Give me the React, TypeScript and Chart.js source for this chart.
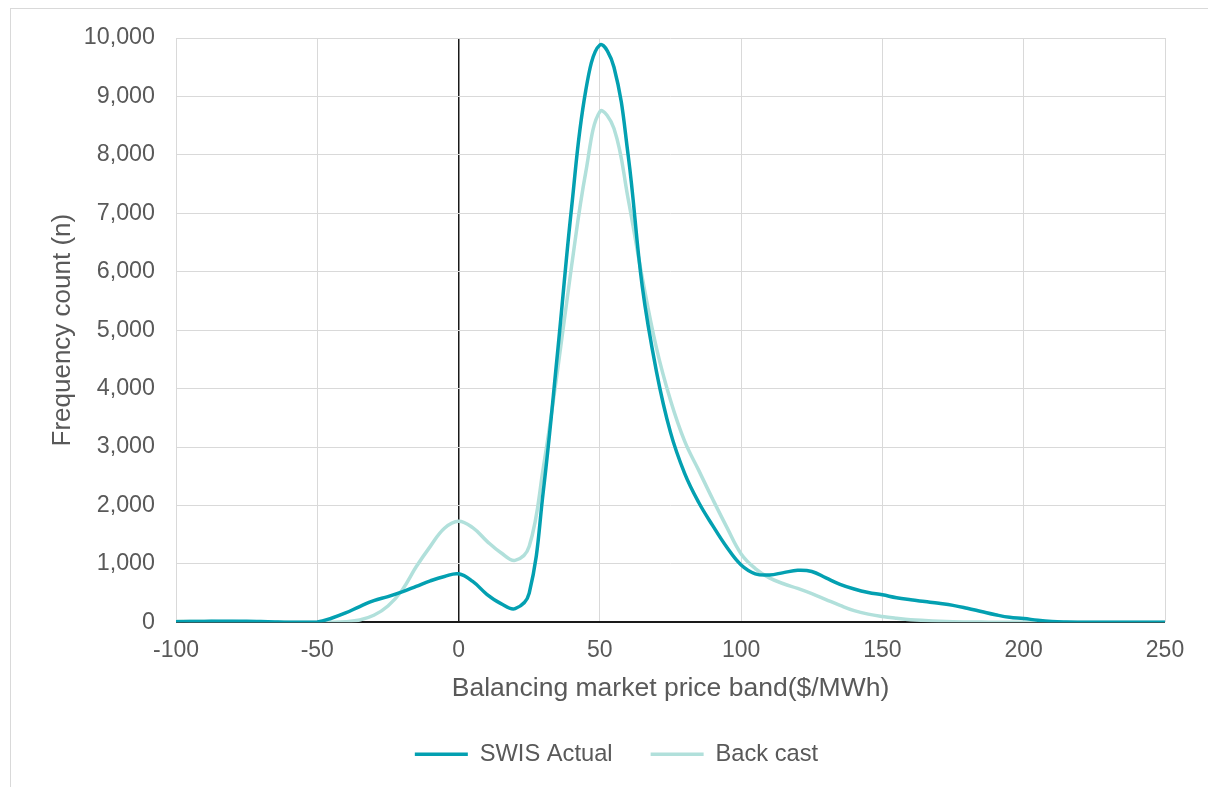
import React, { useEffect, useRef } from "react";
import { Chart, registerables } from "chart.js";

Chart.register(...registerables);

// Price bands ($/MWh)
const priceBands = [
  -100, -95, -90, -85, -80, -75, -70, -65, -60, -55,
  -50, -45, -40, -35, -30, -25, -20, -15, -10, -5,
  0, 5, 10, 15, 20, 25, 30, 35, 40, 45,
  50, 55, 60, 65, 70, 75, 80, 85, 90, 95,
  100, 105, 110, 115, 120, 125, 130, 135, 140, 145,
  150, 155, 160, 165, 170, 175, 180, 185, 190, 195,
  200, 205, 210, 215, 220, 225, 230, 235, 240, 245,
  250,
];

const swisActual = [
  10, 12, 15, 18, 20, 18, 12, 5, 0, 0,
  5, 70, 160, 270, 370, 440, 520, 615, 710, 785,
  830, 700, 480, 320, 235, 500, 2250, 4600, 7100, 9100,
  9880, 9500, 8000, 5750, 4300, 3250, 2550, 2050, 1650, 1280,
  980, 830, 810, 850, 890, 870, 760, 650, 570, 510,
  470, 420, 385, 355, 325, 290, 240, 185, 130, 85,
  65, 35, 15, 6, 2, 0, 0, 0, 0, 0,
  0,
];

const backCast = [
  20, 20, 18, 15, 12, 10, 8, 5, 2, 0,
  0, 0, 10, 40, 120, 280, 550, 950, 1300, 1610,
  1730, 1620, 1390, 1190, 1060, 1300, 2650, 4300, 6100, 7700,
  8740, 8450, 7250, 5900, 4700, 3800, 3100, 2600, 2100, 1620,
  1170, 920, 760, 660, 580, 490, 390, 290, 200, 140,
  100, 70, 45, 30, 18, 10, 6, 3, 2, 0,
  0, 0, 0, 0, 0, 0, 0, 0, 0, 0,
  0,
];

const seriesLabels = ["SWIS Actual", "Back cast"];
const xMin = -100;
const xMax = 250;
const xStep = 50;
const yMin = 0;
const yMax = 10000;
const yStep = 1000;

const DARK = "#03A0B1";
const LIGHT = "#B1E0DB";
const TEXT = "#595959";
const GRID = "#d9d9d9";
const AXIS = "#1a1a1a";
const FONT = "'Liberation Sans', Arial, sans-serif";

const frame = {
  id: "frame",
  beforeDraw(chart: any) {
    const { ctx, width, height } = chart;
    ctx.save();
    ctx.fillStyle = "#ffffff";
    ctx.fillRect(0, 0, width, height);
    ctx.strokeStyle = GRID;
    ctx.lineWidth = 1;
    ctx.strokeRect(10.5, 8.5, width + 20, height + 20);
    ctx.restore();
  },
};

export default function App() {
  const ref = useRef<HTMLCanvasElement>(null);

  useEffect(() => {
    const canvas = ref.current;
    if (!canvas) return;
    const chart = new Chart(canvas, {
      type: "line",
      data: {
        datasets: [
          {
            label: seriesLabels[0],
            data: priceBands.map((x, i) => ({ x, y: swisActual[i] })),
            borderColor: DARK,
            backgroundColor: DARK,
            borderWidth: 3.5,
            pointRadius: 0,
            tension: 0.4,
            fill: false,
          },
          {
            label: seriesLabels[1],
            data: priceBands.map((x, i) => ({ x, y: backCast[i] })),
            borderColor: LIGHT,
            backgroundColor: LIGHT,
            borderWidth: 3.5,
            pointRadius: 0,
            tension: 0.4,
            fill: false,
          },
        ],
      },
      options: {
        responsive: false,
        animation: false,
        devicePixelRatio: 1,
        font: { family: FONT },
        layout: { padding: { left: 68, right: 43, top: 38, bottom: 11 } },
        plugins: {
          legend: {
            position: "bottom",
            labels: {
              usePointStyle: true,
              pointStyle: "line",
              pointStyleWidth: 53,
              color: TEXT,
              font: { size: 23.7, family: FONT },
              padding: 38,
            },
          },
          tooltip: { enabled: false },
        },
        scales: {
          x: {
            type: "linear",
            min: xMin,
            max: xMax,
            ticks: {
              stepSize: xStep,
              color: TEXT,
              font: { size: 23, family: FONT },
              padding: 15,
            },
            grid: {
              color: (c: any) => (c.tick && c.tick.value === 0 ? AXIS : GRID),
              lineWidth: (c: any) => (c.tick && c.tick.value === 0 ? 1.5 : 1),
              drawTicks: false,
            },
            border: { display: false },
            title: {
              display: true,
              text: "Balancing market price band($/MWh)",
              color: TEXT,
              font: { size: 26.5, family: FONT },
              padding: { top: 0, bottom: 0 },
            },
            afterFit: (s: any) => {
              s.height = 82;
            },
          },
          y: {
            type: "linear",
            min: yMin,
            max: yMax,
            ticks: {
              stepSize: yStep,
              color: TEXT,
              font: { size: 23.3, family: FONT },
              padding: 21,
            },
            grid: {
              color: (c: any) => (c.tick && c.tick.value === 0 ? AXIS : GRID),
              lineWidth: (c: any) => (c.tick && c.tick.value === 0 ? 2 : 1),
              drawTicks: false,
            },
            border: { display: false },
            title: {
              display: true,
              text: "Frequency count (n)",
              color: TEXT,
              font: { size: 26, family: FONT },
              padding: { top: -21, bottom: 0 },
            },
            afterFit: (s: any) => {
              s.width = 108;
            },
          },
        },
      },
      plugins: [frame],
    } as any);
    return () => chart.destroy();
  }, []);

  return (
    <canvas
      ref={ref}
      width={1208}
      height={787}
      style={{ position: "fixed", left: 0, top: 0, width: 1208, height: 787 }}
    />
  );
}
